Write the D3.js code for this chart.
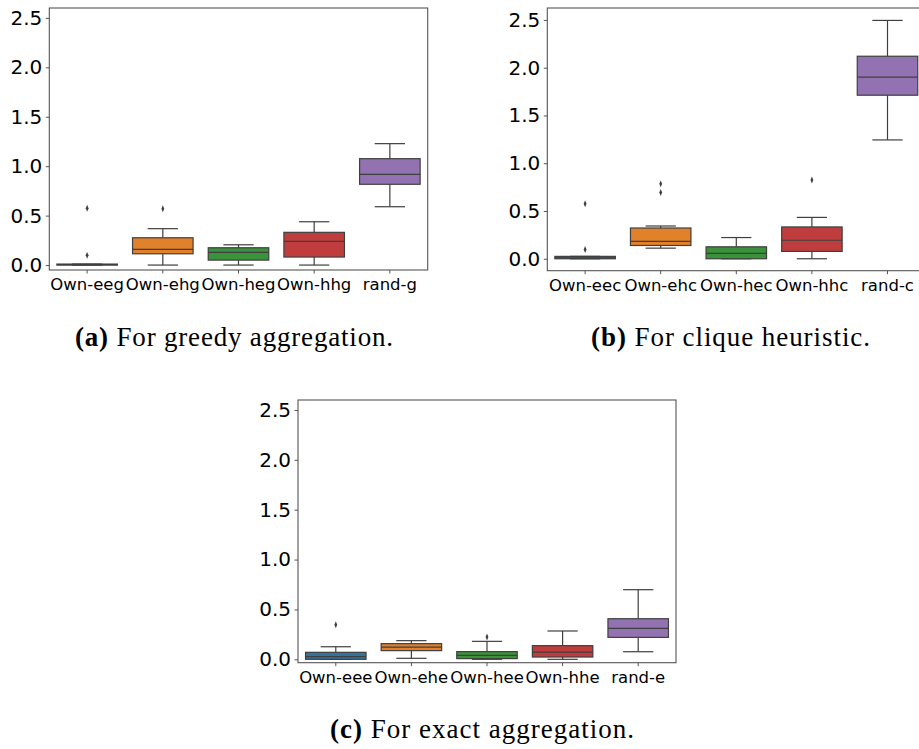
<!DOCTYPE html>
<html>
<head>
<meta charset="utf-8">
<script src="https://cdn.jsdelivr.net/npm/d3@7"></script>
<style>
  body { margin: 0; background: #fff; }
  svg { display: block; }
  .tick text { font-family: "DejaVu Sans", sans-serif; fill: #000; }
</style>
</head>
<body>
<div class="chart-container"></div>
<script>
// Panel (a): greedy aggregation
const labelsA = ["Own-eeg", "Own-ehg", "Own-heg", "Own-hhg", "rand-g"];
const lowA  = [0.0,   0.0,   0.0,   0.0,   0.59];
const q1A   = [0.0,   0.114, 0.05,  0.081, 0.817];
const medA  = [0.003, 0.159, 0.128, 0.24,  0.918];
const q3A   = [0.01,  0.276, 0.175, 0.331, 1.076];
const highA = [0.01,  0.368, 0.205, 0.438, 1.228];
const fliersA = [[0.574, 0.098], [0.57], [], [], []];

// Panel (b): clique heuristic
const labelsB = ["Own-eec", "Own-ehc", "Own-hec", "Own-hhc", "rand-c"];
const lowB  = [0.0,   0.111, 0.0,   0.0,   1.244];
const q1B   = [0.0,   0.139, 0.0,   0.077, 1.712];
const medB  = [0.01,  0.181, 0.056, 0.194, 1.902];
const q3B   = [0.025, 0.322, 0.125, 0.333, 2.12];
const highB = [0.025, 0.343, 0.222, 0.433, 2.495];
const fliersB = [[0.576, 0.098], [0.784, 0.693], [], [0.825], []];

// Panel (c): exact aggregation
const labelsC = ["Own-eee", "Own-ehe", "Own-hee", "Own-hhe", "rand-e"];
const lowC  = [0.0,   0.01,  0.0,   0.0,   0.076];
const q1C   = [0.0,   0.087, 0.007, 0.023, 0.22];
const medC  = [0.026, 0.123, 0.04,  0.073, 0.311];
const q3C   = [0.07,  0.157, 0.077, 0.137, 0.407];
const highC = [0.126, 0.187, 0.18,  0.284, 0.698];
const fliersC = [[0.347], [], [0.224], [], []];

const yTicks = [0, 0.5, 1.0, 1.5, 2.0, 2.5];
const colors = ["#3274a1", "#e1812c", "#3a923a", "#c03d3e", "#9372b2"];

const width = 919;
const height = 749;
const lineColor = "#3f3f3f";

const svg = d3.select('.chart-container').append("svg")
    .attr("width", width)
    .attr("height", height);

function panel(opts){
    const {left, right, top, bottom, yDomain, labels, low, q1, med, q3, high, fliers} = opts;

    const x = d3.scaleBand()
        .domain(labels)
        .range([left, right])
        .padding(0);

    const y = d3.scaleLinear()
        .domain(yDomain)
        .range([bottom, top]);

    const g = svg.append("g");

    // boxes
    const bw = x.bandwidth() * 0.8;
    labels.forEach((lab, i) => {
        const cx = x(lab) + x.bandwidth() / 2;
        const b = g.append("g");
        // whiskers
        b.append("line")
            .attr("x1", cx).attr("x2", cx)
            .attr("y1", y(q3[i])).attr("y2", y(high[i]))
            .attr("stroke", lineColor).attr("stroke-width", 1.2);
        b.append("line")
            .attr("x1", cx).attr("x2", cx)
            .attr("y1", y(q1[i])).attr("y2", y(low[i]))
            .attr("stroke", lineColor).attr("stroke-width", 1.2);
        // caps
        [low[i], high[i]].forEach(v => {
            b.append("line")
                .attr("x1", cx - bw / 4).attr("x2", cx + bw / 4)
                .attr("y1", y(v)).attr("y2", y(v))
                .attr("stroke", lineColor).attr("stroke-width", 1.2);
        });
        // box
        b.append("rect")
            .attr("x", cx - bw / 2)
            .attr("y", y(q3[i]))
            .attr("width", bw)
            .attr("height", Math.max(y(q1[i]) - y(q3[i]), 0.5))
            .attr("fill", colors[i])
            .attr("stroke", lineColor)
            .attr("stroke-width", 1.2);
        // median
        b.append("line")
            .attr("x1", cx - bw / 2).attr("x2", cx + bw / 2)
            .attr("y1", y(med[i])).attr("y2", y(med[i]))
            .attr("stroke", lineColor).attr("stroke-width", 1.2);
        // outliers (diamonds)
        b.selectAll("path.flier")
            .data(fliers[i])
            .enter()
            .append("path")
            .attr("class", "flier")
            .attr("d", d3.symbol(d3.symbolDiamond, 14))
            .attr("transform", d => `translate(${cx},${y(d)}) scale(0.7,1)`)
            .attr("fill", lineColor);
    });

    // frame
    g.append("rect")
        .attr("x", left).attr("y", top)
        .attr("width", right - left).attr("height", bottom - top)
        .attr("fill", "none")
        .attr("stroke", "#555")
        .attr("stroke-width", 1.1);

    // y-axis
    const ya = g.append("g")
        .attr("transform", `translate(${left},0)`)
        .call(d3.axisLeft(y).tickValues(yTicks).tickFormat(d3.format(".1f")).tickSize(3.5).tickPadding(3.5));
    ya.select(".domain").remove();
    ya.selectAll(".tick line").attr("stroke", "#555");
    ya.selectAll(".tick text").style("font-size", "20px");

    // x-axis
    const xa = g.append("g")
        .attr("transform", `translate(0,${bottom})`)
        .call(d3.axisBottom(x).tickSize(3.5).tickPadding(5));
    xa.select(".domain").remove();
    xa.selectAll(".tick line").attr("stroke", "#555");
    xa.selectAll(".tick text").style("font-size", "16.5px");
}

panel({left: 49.3, right: 427.7, top: 8, bottom: 270, yDomain: [-0.05, 2.6],
    labels: labelsA, low: lowA, q1: q1A, med: medA, q3: q3A, high: highA, fliers: fliersA});
panel({left: 547.3, right: 925.3, top: 8, bottom: 270.7, yDomain: [-0.125, 2.625],
    labels: labelsB, low: lowB, q1: q1B, med: medB, q3: q3B, high: highB, fliers: fliersB});
panel({left: 298, right: 676, top: 400, bottom: 662.7, yDomain: [-0.034, 2.6],
    labels: labelsC, low: lowC, q1: q1C, med: medC, q3: q3C, high: highC, fliers: fliersC});

// captions
function caption(x0, y0, w, tag, rest){
    const t = svg.append("text")
        .attr("x", x0)
        .attr("y", y0)
        .attr("textLength", w)
        .attr("lengthAdjust", "spacing")
        .style("font-family", "'Liberation Serif', serif")
        .style("font-size", "27px")
        .attr("fill", "#000");
    t.append("tspan").attr("font-weight", "bold").text(tag);
    t.append("tspan").text(" " + rest);
}
caption(75, 346, 318, "(a)", "For greedy aggregation.");
caption(591, 346, 279, "(b)", "For clique heuristic.");
caption(330, 738, 304, "(c)", "For exact aggregation.");
</script>
</body>
</html>
